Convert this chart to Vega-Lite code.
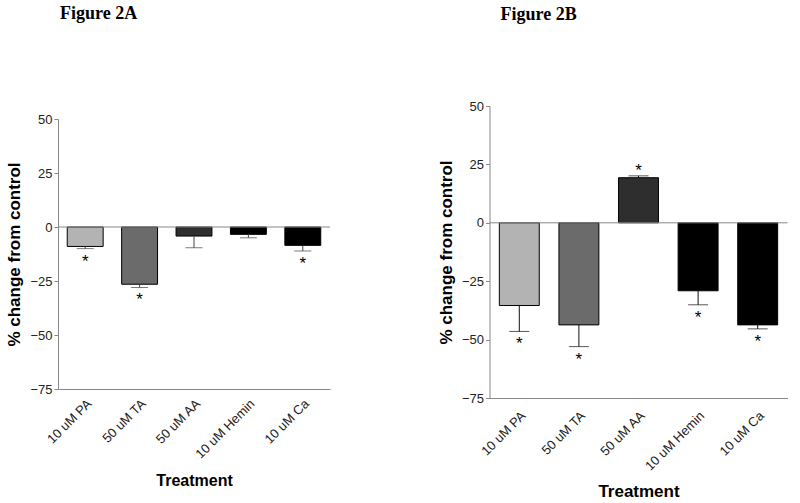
{
  "$schema": "https://vega.github.io/schema/vega-lite/v6.json",
  "padding": {"left": 5, "top": 5, "right": 5, "bottom": 5},
  "background": "white",
  "config": {
    "view": {"stroke": null},
    "font": "Liberation Sans",
    "concat": {"spacing": 105.5},
    "title": {"font": "Liberation Serif", "fontSize": 18, "fontWeight": "bold", "color": "black", "anchor": "start", "frame": "group"}
  },
  "datasets": {
    "A": [
      {"treatment": "10 uM PA", "value": -9, "end": -10, "star": "*"},
      {"treatment": "50 uM TA", "value": -26.5, "end": -28, "star": "*"},
      {"treatment": "50 uM AA", "value": -4.2, "end": -9.6, "star": ""},
      {"treatment": "10 uM Hemin", "value": -3.4, "end": -5, "star": ""},
      {"treatment": "10 uM Ca", "value": -8.5, "end": -11.1, "star": "*"}
    ],
    "B": [
      {"treatment": "10 uM PA", "value": -35.4, "end": -46.5, "star": "*"},
      {"treatment": "50 uM TA", "value": -43.7, "end": -53, "star": "*"},
      {"treatment": "50 uM AA", "value": 19.3, "end": 20.1, "star": "*"},
      {"treatment": "10 uM Hemin", "value": -29.1, "end": -35.1, "star": "*"},
      {"treatment": "10 uM Ca", "value": -43.7, "end": -45.4, "star": "*"}
    ]
  },
  "hconcat": [
    {
      "width": 272,
      "height": 283,
      "title": {"text": "Figure 2A", "offset": 83, "dx": 2},
      "data": {"name": "A"},
      "layer": [
        {
          "mark": {"type": "bar", "stroke": "black", "strokeWidth": 1},
          "encoding": {
            "x": {"field": "treatment", "type": "nominal", "sort": null, "scale": {"paddingInner": 0.34, "paddingOuter": 0.17},
              "axis": {"title": "Treatment", "ticks": false, "domainColor": "#888", "labelFontSize": 13, "labelColor": "#222", "labelAngle": -45, "labelPadding": 8, "titleFontSize": 16, "titleFontWeight": "bold", "titleColor": "black", "titlePadding": 12}},
            "y": {"field": "value", "type": "quantitative", "scale": {"domain": [-75, 50], "nice": false, "range": [283, 13]},
              "axis": {"title": "% change from control", "values": [-75, -50, -25, 0, 25, 50], "grid": false, "domainColor": "#888", "tickColor": "#888", "tickSize": 4, "labelFontSize": 13, "labelColor": "#222", "labelPadding": 2, "titleFontSize": 17, "titleFontWeight": "bold", "titleColor": "black", "titlePadding": 6}},
            "color": {"field": "treatment", "type": "nominal", "legend": null, "scale": {"domain": ["10 uM PA", "50 uM TA", "50 uM AA", "10 uM Hemin", "10 uM Ca"], "range": ["#b3b3b3", "#6b6b6b", "#2e2e2e", "#000000", "#000000"]}}
          }
        },
        {
          "mark": {"type": "rule", "color": "#444", "strokeWidth": 1},
          "encoding": {
            "x": {"field": "treatment", "type": "nominal", "sort": null},
            "y": {"field": "value", "type": "quantitative"},
            "y2": {"field": "end"}
          }
        },
        {
          "mark": {"type": "tick", "color": "#444", "size": 17, "thickness": 1, "orient": "horizontal"},
          "encoding": {
            "x": {"field": "treatment", "type": "nominal", "sort": null},
            "y": {"field": "end", "type": "quantitative"}
          }
        },
        {
          "data": {"values": [{"zero": 0}]},
          "mark": {"type": "rule", "color": "#888", "strokeWidth": 1},
          "encoding": {"y": {"field": "zero", "type": "quantitative"}}
        },
        {
          "transform": [{"filter": "datum.star == '*'"}],
          "mark": {"type": "text", "fontSize": 17, "baseline": "middle", "dy": 13, "color": "black"},
          "encoding": {
            "x": {"field": "treatment", "type": "nominal", "sort": null},
            "y": {"field": "end", "type": "quantitative"},
            "text": {"field": "star"}
          }
        }
      ]
    },
    {
      "width": 298,
      "height": 292,
      "title": {"text": "Figure 2B", "offset": 76, "dx": 11},
      "data": {"name": "B"},
      "layer": [
        {
          "mark": {"type": "bar", "stroke": "black", "strokeWidth": 1},
          "encoding": {
            "x": {"field": "treatment", "type": "nominal", "sort": null, "scale": {"paddingInner": 0.33, "paddingOuter": 0.165},
              "axis": {"title": "Treatment", "ticks": false, "domainColor": "#888", "labelFontSize": 13, "labelColor": "#222", "labelAngle": -45, "labelPadding": 11, "titleFontSize": 17, "titleFontWeight": "bold", "titleColor": "black", "titlePadding": 10.5}},
            "y": {"field": "value", "type": "quantitative", "scale": {"domain": [-75, 50], "nice": false},
              "axis": {"title": "% change from control", "values": [-75, -50, -25, 0, 25, 50], "grid": false, "domainColor": "#888", "tickColor": "#888", "tickSize": 4, "labelFontSize": 13, "labelColor": "#222", "labelPadding": 2, "titleFontSize": 17, "titleFontWeight": "bold", "titleColor": "black", "titlePadding": 6}},
            "color": {"field": "treatment", "type": "nominal", "legend": null, "scale": {"domain": ["10 uM PA", "50 uM TA", "50 uM AA", "10 uM Hemin", "10 uM Ca"], "range": ["#b3b3b3", "#6b6b6b", "#2e2e2e", "#000000", "#000000"]}}
          }
        },
        {
          "mark": {"type": "rule", "color": "#111", "strokeWidth": 1},
          "encoding": {
            "x": {"field": "treatment", "type": "nominal", "sort": null},
            "y": {"field": "value", "type": "quantitative"},
            "y2": {"field": "end"}
          }
        },
        {
          "mark": {"type": "tick", "color": "#111", "size": 20, "thickness": 1, "orient": "horizontal"},
          "encoding": {
            "x": {"field": "treatment", "type": "nominal", "sort": null},
            "y": {"field": "end", "type": "quantitative"}
          }
        },
        {
          "data": {"values": [{"zero": 0}]},
          "mark": {"type": "rule", "color": "#888", "strokeWidth": 1},
          "encoding": {"y": {"field": "zero", "type": "quantitative"}}
        },
        {
          "transform": [{"filter": "datum.star == '*' && datum.end < 0"}],
          "mark": {"type": "text", "fontSize": 17, "baseline": "middle", "dy": 13, "color": "black"},
          "encoding": {
            "x": {"field": "treatment", "type": "nominal", "sort": null},
            "y": {"field": "end", "type": "quantitative"},
            "text": {"field": "star"}
          }
        },
        {
          "transform": [{"filter": "datum.star == '*' && datum.end > 0"}],
          "mark": {"type": "text", "fontSize": 17, "baseline": "middle", "dy": -5, "color": "black"},
          "encoding": {
            "x": {"field": "treatment", "type": "nominal", "sort": null},
            "y": {"field": "end", "type": "quantitative"},
            "text": {"field": "star"}
          }
        }
      ]
    }
  ]
}
